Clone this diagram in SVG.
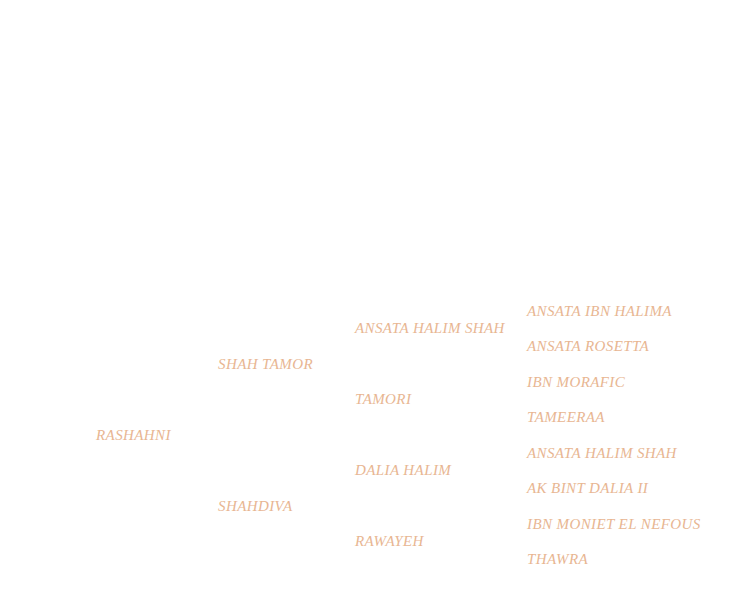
<svg xmlns="http://www.w3.org/2000/svg" width="739" height="604" viewBox="0 0 739 604">
<style>
text{font-family:"Liberation Serif","DejaVu Serif",serif;font-style:italic;font-size:15px;letter-spacing:0.4px;fill:#e8b692}
</style>
<rect width="739" height="604" fill="#ffffff"/>
<g id="gen1"><text x="96" y="440">RASHAHNI</text></g>
<g id="gen2">
<text x="218" y="369">SHAH TAMOR</text>
<text x="218" y="511">SHAHDIVA</text>
</g>
<g id="gen3">
<text x="355" y="333">ANSATA HALIM SHAH</text>
<text x="355" y="404">TAMORI</text>
<text x="355" y="475">DALIA HALIM</text>
<text x="355" y="546">RAWAYEH</text>
</g>
<g id="gen4">
<text x="527" y="316">ANSATA IBN HALIMA</text>
<text x="527" y="351">ANSATA ROSETTA</text>
<text x="527" y="387">IBN MORAFIC</text>
<text x="527" y="422">TAMEERAA</text>
<text x="527" y="458">ANSATA HALIM SHAH</text>
<text x="527" y="493">AK BINT DALIA II</text>
<text x="527" y="529">IBN MONIET EL NEFOUS</text>
<text x="527" y="564">THAWRA</text>
</g>
<g id="connectors"></g>
</svg>
